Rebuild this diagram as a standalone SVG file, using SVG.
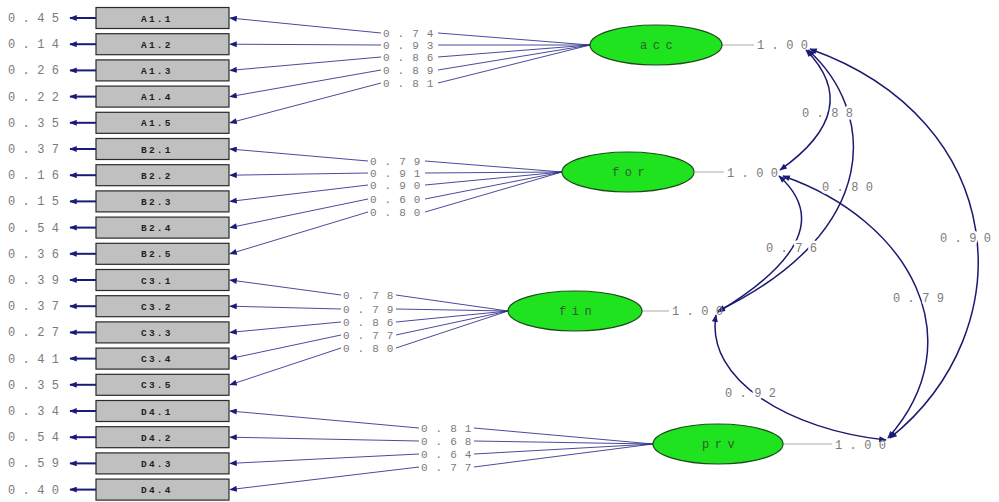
<svg xmlns="http://www.w3.org/2000/svg" width="999" height="502" viewBox="0 0 999 502">
<defs>
<marker id="ah" viewBox="0 0 10 8" refX="9" refY="4" markerWidth="9" markerHeight="6" markerUnits="userSpaceOnUse" orient="auto-start-reverse">
<path d="M0,0 L10,4 L0,8 z" fill="#1a1a78"/>
</marker>
<marker id="ahe" viewBox="0 0 10 8" refX="9" refY="4" markerWidth="11" markerHeight="6" markerUnits="userSpaceOnUse" orient="auto">
<path d="M0,0 L10,4 L0,8 z" fill="#1a1a78"/>
</marker>
</defs>
<style>
.bx{fill:#c0c0c0;stroke:#2a2a2a;stroke-width:1.2}
.bt{font-family:"Liberation Mono",monospace;font-size:9.5px;font-weight:bold;fill:#222;letter-spacing:2.2px}
.num{font-family:"Liberation Mono",monospace;font-size:12px;fill:#7a7a7a;letter-spacing:7.4px}
.ln{font-family:"Liberation Mono",monospace;font-size:11px;fill:#7a7a7a;letter-spacing:8px}
.cl{paint-order:stroke;stroke:#fff;stroke-width:5px;stroke-linejoin:round}
.el{fill:#1ee31e;stroke:#1e4a1e;stroke-width:1.2}
.et{font-family:"Liberation Mono",monospace;font-size:12px;fill:#2f5f2f;letter-spacing:5.5px}
.ea{stroke:#1a1a78;stroke-width:2;fill:none}
.ld{stroke:#2a2a88;stroke-width:1;fill:none;stroke-opacity:0.85}
.cv{stroke:#1a1a70;stroke-width:1.5;fill:none}
.vl{stroke:#aaa;stroke-width:1}
</style>
<rect x="0" y="0" width="999" height="502" fill="#fff"/>

<g id="connectors">
<g class="ea" marker-end="url(#ahe)">
<line x1="96" y1="18" x2="70" y2="18"/>
<line x1="96" y1="44.2" x2="70" y2="44.2"/>
<line x1="96" y1="70.4" x2="70" y2="70.4"/>
<line x1="96" y1="96.6" x2="70" y2="96.6"/>
<line x1="96" y1="122.8" x2="70" y2="122.8"/>
<line x1="96" y1="149" x2="70" y2="149"/>
<line x1="96" y1="175.2" x2="70" y2="175.2"/>
<line x1="96" y1="201.4" x2="70" y2="201.4"/>
<line x1="96" y1="227.6" x2="70" y2="227.6"/>
<line x1="96" y1="253.8" x2="70" y2="253.8"/>
<line x1="96" y1="280" x2="70" y2="280"/>
<line x1="96" y1="306.2" x2="70" y2="306.2"/>
<line x1="96" y1="332.4" x2="70" y2="332.4"/>
<line x1="96" y1="358.6" x2="70" y2="358.6"/>
<line x1="96" y1="384.8" x2="70" y2="384.8"/>
<line x1="96" y1="411" x2="70" y2="411"/>
<line x1="96" y1="437.2" x2="70" y2="437.2"/>
<line x1="96" y1="463.4" x2="70" y2="463.4"/>
<line x1="96" y1="489.6" x2="70" y2="489.6"/>
</g>
<g class="ld" marker-end="url(#ah)">
<path d="M590,45 L438,33 M381,33 L230,18"/>
<path d="M590,45 L438,45 M381,45 L230,44.2"/>
<path d="M590,45 L438,57 M381,57 L230,70.4"/>
<path d="M590,45 L438,70 M381,70 L230,96.6"/>
<path d="M590,45 L438,83 M381,83 L230,122.8"/>

<path d="M562,172 L425,161 M368,161 L230,149"/>
<path d="M562,172 L425,173 M368,173 L230,175.2"/>
<path d="M562,172 L425,185 M368,185 L230,201.4"/>
<path d="M562,172 L425,199 M368,199 L230,227.6"/>
<path d="M562,172 L425,212 M368,212 L230,253.8"/>

<path d="M508,311 L396,295 M341,295 L230,280"/>
<path d="M508,311 L396,309 M341,309 L230,306.2"/>
<path d="M508,311 L396,322 M341,322 L230,332.4"/>
<path d="M508,311 L396,335 M341,335 L230,358.6"/>
<path d="M508,311 L396,348 M341,348 L230,384.8"/>

<path d="M653,444 L474,428 M419,428 L230,411"/>
<path d="M653,444 L474,441 M419,441 L230,437.2"/>
<path d="M653,444 L474,454 M419,454 L230,463.4"/>
<path d="M653,444 L474,467 M419,467 L230,489.6"/>
</g>
<line class="vl" x1="722" y1="45" x2="754" y2="45"/>
<line class="vl" x1="695" y1="172" x2="724" y2="172"/>
<line class="vl" x1="642" y1="311" x2="669" y2="311"/>
<line class="vl" x1="783" y1="444" x2="832" y2="444"/>
<g class="cv" marker-start="url(#ah)" marker-end="url(#ah)">
<path d="M806,50 Q865,110 780,170"/>
<path d="M808,50 C875,110 885,230 718,311"/>
<path d="M779,176 Q845,235 718,312"/>
<path d="M783,176 C910,220 975,340 888,438"/>
<path d="M810,49 C1010,120 1025,330 890,438"/>
<path d="M716,315 C705,380 790,430 886,440"/>
</g>
</g>

<g id="labels">
<text class="num" x="757" y="49">1.00</text>
<text class="num" x="727" y="177">1.00</text>
<text class="num" x="672" y="315">1.00</text>
<text class="num" x="835" y="449">1.00</text>
<g class="num cl">
<text x="802" y="117">0.88</text>
<text x="822" y="191">0.80</text>
<text x="766" y="252">0.76</text>
<text x="893" y="302">0.79</text>
<text x="940" y="242">0.90</text>
<text x="725" y="397">0.92</text>
</g>
<g class="ln">
<text x="383" y="37">0.74</text>
<text x="383" y="49">0.93</text>
<text x="383" y="61">0.86</text>
<text x="383" y="74">0.89</text>
<text x="383" y="87">0.81</text>
<text x="370" y="165">0.79</text>
<text x="370" y="177">0.91</text>
<text x="370" y="189">0.90</text>
<text x="370" y="203">0.60</text>
<text x="370" y="216">0.80</text>
<text x="343" y="299">0.78</text>
<text x="343" y="313">0.79</text>
<text x="343" y="326">0.86</text>
<text x="343" y="339">0.77</text>
<text x="343" y="352">0.80</text>
<text x="421" y="432">0.81</text>
<text x="421" y="445">0.68</text>
<text x="421" y="458">0.64</text>
<text x="421" y="471">0.77</text>
</g>
</g>

<g id="errors" class="num">
<text x="8" y="22">0.45</text>
<text x="8" y="48.2">0.14</text>
<text x="8" y="74.4">0.26</text>
<text x="8" y="100.6">0.22</text>
<text x="8" y="126.8">0.35</text>
<text x="8" y="153">0.37</text>
<text x="8" y="179.2">0.16</text>
<text x="8" y="205.4">0.15</text>
<text x="8" y="231.6">0.54</text>
<text x="8" y="257.8">0.36</text>
<text x="8" y="284">0.39</text>
<text x="8" y="310.2">0.37</text>
<text x="8" y="336.4">0.27</text>
<text x="8" y="362.6">0.41</text>
<text x="8" y="388.8">0.35</text>
<text x="8" y="415">0.34</text>
<text x="8" y="441.2">0.54</text>
<text x="8" y="467.4">0.59</text>
<text x="8" y="493.6">0.40</text>
</g>

<g id="A1.1"><rect class="bx" x="96" y="7.5" width="133" height="21"/><text class="bt" x="141" y="21.5">A1.1</text></g>
<g id="A1.2"><rect class="bx" x="96" y="33.7" width="133" height="21"/><text class="bt" x="141" y="47.7">A1.2</text></g>
<g id="A1.3"><rect class="bx" x="96" y="59.9" width="133" height="21"/><text class="bt" x="141" y="73.9">A1.3</text></g>
<g id="A1.4"><rect class="bx" x="96" y="86.1" width="133" height="21"/><text class="bt" x="141" y="100.1">A1.4</text></g>
<g id="A1.5"><rect class="bx" x="96" y="112.3" width="133" height="21"/><text class="bt" x="141" y="126.3">A1.5</text></g>
<g id="B2.1"><rect class="bx" x="96" y="138.5" width="133" height="21"/><text class="bt" x="141" y="152.5">B2.1</text></g>
<g id="B2.2"><rect class="bx" x="96" y="164.7" width="133" height="21"/><text class="bt" x="141" y="178.7">B2.2</text></g>
<g id="B2.3"><rect class="bx" x="96" y="190.9" width="133" height="21"/><text class="bt" x="141" y="204.9">B2.3</text></g>
<g id="B2.4"><rect class="bx" x="96" y="217.1" width="133" height="21"/><text class="bt" x="141" y="231.1">B2.4</text></g>
<g id="B2.5"><rect class="bx" x="96" y="243.3" width="133" height="21"/><text class="bt" x="141" y="257.3">B2.5</text></g>
<g id="C3.1"><rect class="bx" x="96" y="269.5" width="133" height="21"/><text class="bt" x="141" y="283.5">C3.1</text></g>
<g id="C3.2"><rect class="bx" x="96" y="295.7" width="133" height="21"/><text class="bt" x="141" y="309.7">C3.2</text></g>
<g id="C3.3"><rect class="bx" x="96" y="321.9" width="133" height="21"/><text class="bt" x="141" y="335.9">C3.3</text></g>
<g id="C3.4"><rect class="bx" x="96" y="348.1" width="133" height="21"/><text class="bt" x="141" y="362.1">C3.4</text></g>
<g id="C3.5"><rect class="bx" x="96" y="374.3" width="133" height="21"/><text class="bt" x="141" y="388.3">C3.5</text></g>
<g id="D4.1"><rect class="bx" x="96" y="400.5" width="133" height="21"/><text class="bt" x="141" y="414.5">D4.1</text></g>
<g id="D4.2"><rect class="bx" x="96" y="426.7" width="133" height="21"/><text class="bt" x="141" y="440.7">D4.2</text></g>
<g id="D4.3"><rect class="bx" x="96" y="452.9" width="133" height="21"/><text class="bt" x="141" y="466.9">D4.3</text></g>
<g id="D4.4"><rect class="bx" x="96" y="479.1" width="133" height="21"/><text class="bt" x="141" y="493.1">D4.4</text></g>

<g id="acc"><ellipse class="el" cx="656" cy="45" rx="66" ry="20"/><text class="et" x="640" y="49">acc</text></g>
<g id="for"><ellipse class="el" cx="628" cy="172" rx="66" ry="20"/><text class="et" x="612" y="176">for</text></g>
<g id="fin"><ellipse class="el" cx="575" cy="311" rx="67" ry="20"/><text class="et" x="559" y="315">fin</text></g>
<g id="prv"><ellipse class="el" cx="718" cy="444" rx="65" ry="20"/><text class="et" x="702" y="448">prv</text></g>
</svg>
